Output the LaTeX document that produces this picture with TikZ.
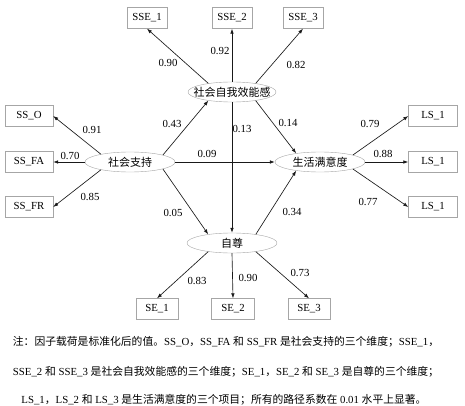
\documentclass[tikz,border=0pt]{standalone}
\usepackage{fontspec}
\setmainfont{Liberation Serif}
\newfontfamily\cjk{Noto Sans CJK SC}
\usetikzlibrary{arrows.meta, shapes.geometric}

\newcommand{\zh}[1]{{\cjk #1}}
\newcommand{\zw}[1]{\makebox[0pt]{#1}}

\begin{document}
\begin{tikzpicture}[x=1pt, y=-1pt, font=\fontsize{10.8}{13}\selectfont,
  obs/.style={draw=gray!70, fill=white, minimum width=40pt, minimum height=21pt, inner sep=1pt},
  lat/.style={ellipse, draw=gray!70, fill=white, minimum width=90pt, minimum height=20pt, inner sep=0pt, font=\cjk\fontsize{11}{13}\selectfont},
  arr/.style={-{Latex[length=5pt,width=3.6pt]}, line width=0.65pt, draw=black!90},
  coef/.style={inner sep=1pt}]
  \useasboundingbox (0,0) rectangle (465,406);

  % latent factors
  \node[lat, minimum width=88pt] (sse) at (232,92) {\zw{社会自我效能感}};
  \node[lat] (ss) at (130,162) {\zw{社会支持}};
  \node[lat] (ls) at (320,162) {\zw{生活满意度}};
  \node[lat] (se) at (232,243) {\zw{自尊}};

  % indicators
  \node[obs] (sse1) at (147,18) {SSE\_1};
  \node[obs] (sse2) at (232,18) {SSE\_2};
  \node[obs] (sse3) at (303,18) {SSE\_3};
  \node[obs, minimum width=48pt] (sso) at (29,116) {SS\_O};
  \node[obs, minimum width=48pt] (ssfa) at (29,162) {SS\_FA};
  \node[obs, minimum width=48pt] (ssfr) at (29,207) {SS\_FR};
  \node[obs, minimum width=49pt] (ls1) at (433,116) {LS\_1};
  \node[obs, minimum width=49pt] (ls2) at (433,162) {LS\_1};
  \node[obs, minimum width=49pt] (ls3) at (433,207) {LS\_1};
  \node[obs, minimum width=42pt] (se1) at (157,309) {SE\_1};
  \node[obs, minimum width=43pt] (se2) at (233,309) {SE\_2};
  \node[obs, minimum width=42pt] (se3) at (309,309) {SE\_3};

  % loadings
  \draw[arr] (sse.160) -- (sse1.south);
  \draw[arr] (sse.north) -- (sse2.south);
  \draw[arr] (sse.20) -- (sse3.south);
  \draw[arr] (ss.165) -- (sso.east);
  \draw[arr] (ss.west) -- (ssfa.east);
  \draw[arr] (ss.195) -- (ssfr.east);
  \draw[arr] (ls.12) -- (ls1.west);
  \draw[arr] (ls.east) -- (ls2.west);
  \draw[arr] (ls.-12) -- (ls3.west);
  \draw[arr] (se.200) -- (se1.north);
  \draw[arr] (se.south) -- (se2.north);
  \draw[arr] (se.-20) -- (se3.north);

  % structural paths
  \draw[arr] (ss.12) -- (sse.200);
  \draw[arr] (ss.east) -- (ls.west);
  \draw[arr] (ss.-12) -- (se.160);
  \draw[arr] (sse.south) -- (se.north);
  \draw[arr] (sse.-20) -- (ls.160);
  \draw[arr] (se.20) -- (ls.-160);

  % coefficients
  \node[coef] (csse1) at (168,63) {0.90};
  \node[coef] (csse2) at (220,51) {0.92};
  \node[coef] (csse3) at (296,65) {0.82};
  \node[coef] (csso) at (92,130) {0.91};
  \node[coef] (cssfa) at (70,156) {0.70};
  \node[coef] (cssfr) at (90,197) {0.85};
  \node[coef] (cssse) at (172,124) {0.43};
  \node[coef] (cssls) at (207,154) {0.09};
  \node[coef] (csse) at (173,213) {0.05};
  \node[coef] (cssese) at (242,129) {0.13};
  \node[coef] (cssels) at (288,123) {0.14};
  \node[coef] (cls1) at (370,124) {0.79};
  \node[coef] (cls2) at (383,154) {0.88};
  \node[coef] (cls3) at (368,202) {0.77};
  \node[coef] (csels) at (292,212) {0.34};
  \node[coef] (cse1) at (197,281) {0.83};
  \node[coef] (cse2) at (248,278) {0.90};
  \node[coef] (cse3) at (300,273) {0.73};

  % note
  \node (note1) at (226,342) {\zh{注：因子载荷是标准化后的值。}SS\_O\zh{，}SS\_FA \zh{和} SS\_FR \zh{是社会支持的三个维度；}SSE\_1\zh{，}};
  \node (note2) at (226,372) {SSE\_2 \zh{和} SSE\_3 \zh{是社会自我效能感的三个维度；}SE\_1\zh{，}SE\_2 \zh{和} SE\_3 \zh{是自尊的三个维度；}};
  \node (note3) at (224,400) {LS\_1\zh{，}LS\_2 \zh{和} LS\_3 \zh{是生活满意度的三个项目；所有的路径系数在} 0.01 \zh{水平上显著。}};
\end{tikzpicture}
\end{document}
